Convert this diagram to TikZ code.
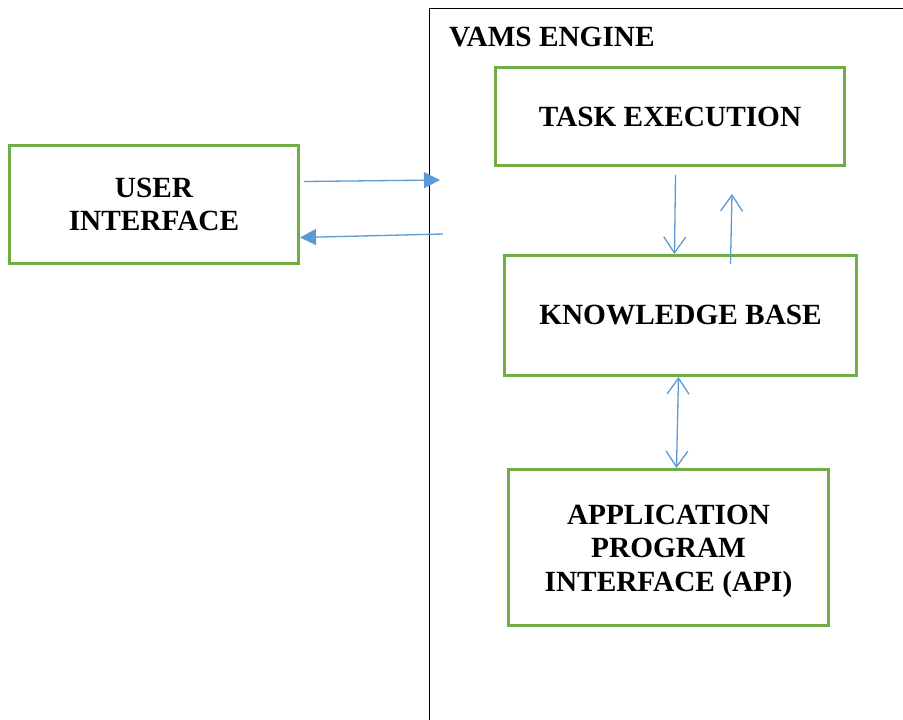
\documentclass[tikz,border=0pt]{standalone}
\usepackage{fontspec}
\setmainfont{Liberation Serif}
\usepackage{tikz}
\usetikzlibrary{positioning}
\usetikzlibrary{calc}
\usetikzlibrary{arrows.meta}
\definecolor{boxgreen}{HTML}{70AD47}
\definecolor{linkblue}{HTML}{5B9BD5}

\begin{document}
\begin{tikzpicture}[
    x=1pt, y=-1pt,
    block/.style={draw=boxgreen, line width=3pt, align=center,
      font=\fontsize{29.3}{33.5}\selectfont\bfseries, inner sep=0pt},
    link/.style={draw=linkblue, line width=1.3pt},
    filled/.style={-{Triangle[length=16pt,width=16pt]}},
    barb/.style={-{Straight Barb[length=16pt,width=22pt,line width=1.3pt]}},
    barbs/.style={{Straight Barb[length=16pt,width=22pt,line width=1.3pt]}-{Straight Barb[length=16pt,width=22pt,line width=1.3pt]}}]
    \useasboundingbox (0,0) rectangle (903,720);
    \clip (0,0) rectangle (903,720);

    % Riquadro del motore (esce dal foglio a destra e in basso)
    \node [draw, line width=1.2pt, minimum width=600pt, minimum height=800pt,
      anchor=north west, inner sep=0pt] (engine) at (429,8) {};
    \node [anchor=base west, inner sep=0pt,
      font=\fontsize{29.3}{33.5}\selectfont\bfseries] (enginelabel) at (449,46) {VAMS ENGINE};

    % Blocchi
    \node [block, anchor=north west, minimum width=289pt, minimum height=118pt]
      (ui) at (8,144) {USER\\INTERFACE};
    \node [block, anchor=north west, minimum width=349pt, minimum height=98pt]
      (task) at (494,66) {TASK EXECUTION};
    \node [block, anchor=north west, minimum width=352pt, minimum height=120pt]
      (kb) at (503,254) {KNOWLEDGE BASE};
    \node [block, anchor=north west, minimum width=320pt, minimum height=156pt]
      (api) at (507,468) {\rule{0pt}{27pt}APPLICATION\\PROGRAM\\INTERFACE (API)};

    % Estremi liberi delle frecce verso il motore
    \coordinate (uitoengine) at (440,180);
    \coordinate (enginetoui) at (443,234);

    % Frecce
    \draw [link, filled] ([xshift=4pt,yshift=23pt]ui.east) -- (uitoengine);
    \draw [link, filled] (enginetoui) -- ([yshift=-33pt]ui.east);
    \draw [link, barb] ([xshift=5.5pt,yshift=-8pt]task.south) -- ([xshift=-6pt]kb.north);
    \draw [link, barb] ([xshift=50pt,yshift=-10pt]kb.north) -- ([xshift=62pt,yshift=-27pt]task.south);
    \draw [link, barbs] ([xshift=-2pt]kb.south) -- ([xshift=8pt]api.north);
\end{tikzpicture}
\end{document}
